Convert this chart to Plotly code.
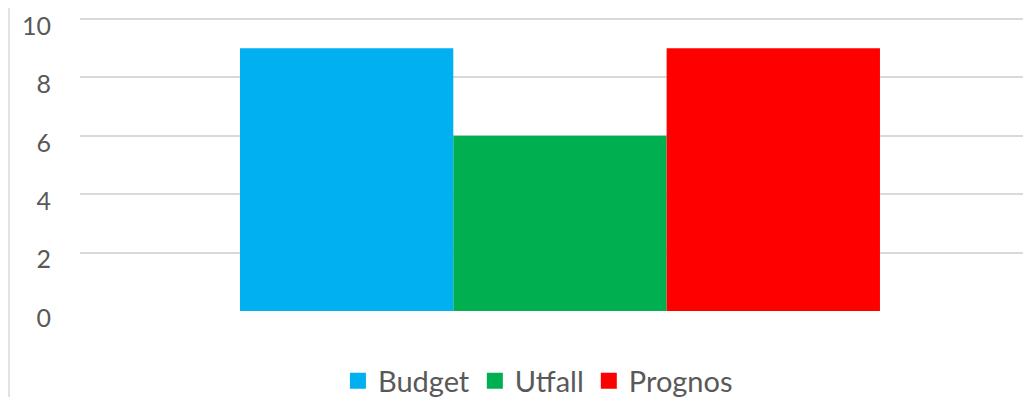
import plotly.graph_objects as go

categories = [""]
series_names = ["Budget", "Utfall", "Prognos"]
series_values = [[9], [6], [9]]
colors = ["#00B0F0", "#00B050", "#FF0000"]
tick_vals = [0, 2, 4, 6, 8, 10]

fig = go.Figure()
for name, vals, col in zip(series_names, series_values, colors):
    fig.add_trace(go.Bar(x=categories, y=vals, name=name, showlegend=False,
                         marker=dict(color=col, line=dict(width=0))))
    fig.add_trace(go.Scatter(x=[None], y=[None], mode="markers", name=name,
                             marker=dict(symbol="square", size=16, color=col)))

font_family = "Lato, 'Open Sans', sans-serif"
fig.update_layout(
    width=1031, height=397,
    margin=dict(l=72, r=0, t=8, b=94, autoexpand=False),
    paper_bgcolor="white", plot_bgcolor="white",
    barmode="group", bargap=1/3, bargroupgap=0,
    font=dict(family=font_family, size=27, color="#595959"),
    showlegend=True,
    legend=dict(orientation="h", xref="container", yref="container",
                x=0.514, xanchor="center", y=1 - 373/397, yanchor="middle",
                font=dict(size=29, color="#595959"), itemwidth=30, tracegroupgap=0,
                itemsizing="trace", bgcolor="rgba(0,0,0,0)"),
    xaxis=dict(range=[-0.5, 0.4990], showticklabels=False, showgrid=False,
               zeroline=False, showline=False, fixedrange=True, automargin=False),
    yaxis=dict(range=[0, 10.1], tickvals=tick_vals, showgrid=True, gridcolor="#D9D9D9",
               gridwidth=1.5, zeroline=False, showline=False, ticks="",
               ticklabelshift=7, ticklabelstandoff=28, automargin=False,
               tickfont=dict(size=25, color="#595959")),
)
fig.add_shape(type="line", xref="paper", yref="paper", x0=-71/959, x1=-71/959,
              y0=-0.5, y1=1.5, line=dict(color="#D9D9D9", width=1.5))

fig.write_html("out.html")
